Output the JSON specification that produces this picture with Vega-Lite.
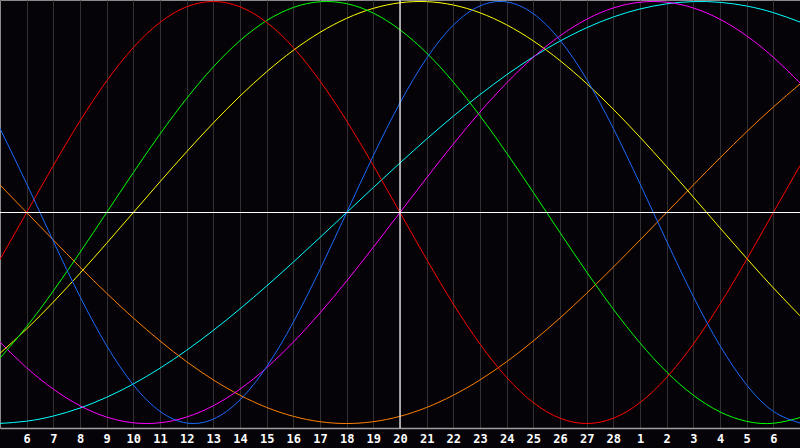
{
  "$schema": "https://vega.github.io/schema/vega-lite/v6.json",
  "width": 800,
  "height": 428,
  "autosize": {"type": "none"},
  "padding": {"left": 0, "top": 0, "right": 0, "bottom": 20},
  "background": "#050308",
  "config": {
    "view": {"stroke": "#8a8a8a", "strokeWidth": 1, "fill": "#050308"},
    "axisX": {"labelOverlap": false, "labelFlush": false, "labelBound": false}
  },
  "resolve": {"axis": {"x": "independent"}},
  "datasets": {
    "cycles": [
      {"t": 0, "physical": 0.3984, "emotional": -0.2225, "intellectual": -0.6901, "intuitive": -0.6142, "aesthetic": -0.6673, "awareness": 0.1305, "spiritual": -0.9996},
      {"t": 1, "physical": 0.1362, "emotional": 0, "intellectual": -0.5406, "intuitive": -0.7357, "aesthetic": -0.5518, "awareness": 0, "spiritual": -0.9890},
      {"t": 2, "physical": -0.1362, "emotional": 0.2225, "intellectual": -0.3717, "intuitive": -0.8372, "aesthetic": -0.4245, "awareness": -0.1305, "spiritual": -0.9646},
      {"t": 3, "physical": -0.3984, "emotional": 0.4339, "intellectual": -0.1893, "intuitive": -0.9158, "aesthetic": -0.2881, "awareness": -0.2588, "spiritual": -0.9267},
      {"t": 4, "physical": -0.6311, "emotional": 0.6235, "intellectual": 0, "intuitive": -0.9694, "aesthetic": -0.1456, "awareness": -0.3827, "spiritual": -0.8757},
      {"t": 5, "physical": -0.8170, "emotional": 0.7818, "intellectual": 0.1893, "intuitive": -0.9966, "aesthetic": 0, "awareness": -0.5, "spiritual": -0.8125},
      {"t": 6, "physical": -0.9423, "emotional": 0.9010, "intellectual": 0.3717, "intuitive": -0.9966, "aesthetic": 0.1456, "awareness": -0.6088, "spiritual": -0.7378},
      {"t": 7, "physical": -0.9977, "emotional": 0.9749, "intellectual": 0.5406, "intuitive": -0.9694, "aesthetic": 0.2881, "awareness": -0.7071, "spiritual": -0.6528},
      {"t": 8, "physical": -0.9791, "emotional": 1, "intellectual": 0.6901, "intuitive": -0.9158, "aesthetic": 0.4245, "awareness": -0.7934, "spiritual": -0.5586},
      {"t": 9, "physical": -0.8879, "emotional": 0.9749, "intellectual": 0.8146, "intuitive": -0.8372, "aesthetic": 0.5518, "awareness": -0.8660, "spiritual": -0.4566},
      {"t": 10, "physical": -0.7308, "emotional": 0.9010, "intellectual": 0.9096, "intuitive": -0.7357, "aesthetic": 0.6673, "awareness": -0.9239, "spiritual": -0.3482},
      {"t": 11, "physical": -0.5196, "emotional": 0.7818, "intellectual": 0.9718, "intuitive": -0.6142, "aesthetic": 0.7687, "awareness": -0.9659, "spiritual": -0.2349},
      {"t": 12, "physical": -0.2698, "emotional": 0.6235, "intellectual": 0.9989, "intuitive": -0.4760, "aesthetic": 0.8536, "awareness": -0.9914, "spiritual": -0.1183},
      {"t": 13, "physical": 0, "emotional": 0.4339, "intellectual": 0.9898, "intuitive": -0.3247, "aesthetic": 0.9204, "awareness": -1, "spiritual": 0},
      {"t": 14, "physical": 0.2698, "emotional": 0.2225, "intellectual": 0.9450, "intuitive": -0.1646, "aesthetic": 0.9675, "awareness": -0.9914, "spiritual": 0.1183},
      {"t": 15, "physical": 0.5196, "emotional": 0, "intellectual": 0.8660, "intuitive": 0, "aesthetic": 0.9940, "awareness": -0.9659, "spiritual": 0.2349},
      {"t": 16, "physical": 0.7308, "emotional": -0.2225, "intellectual": 0.7558, "intuitive": 0.1646, "aesthetic": 0.9993, "awareness": -0.9239, "spiritual": 0.3482},
      {"t": 17, "physical": 0.8879, "emotional": -0.4339, "intellectual": 0.6182, "intuitive": 0.3247, "aesthetic": 0.9834, "awareness": -0.8660, "spiritual": 0.4566},
      {"t": 18, "physical": 0.9791, "emotional": -0.6235, "intellectual": 0.4582, "intuitive": 0.4760, "aesthetic": 0.9464, "awareness": -0.7934, "spiritual": 0.5586},
      {"t": 19, "physical": 0.9977, "emotional": -0.7818, "intellectual": 0.2817, "intuitive": 0.6142, "aesthetic": 0.8893, "awareness": -0.7071, "spiritual": 0.6528},
      {"t": 20, "physical": 0.9423, "emotional": -0.9010, "intellectual": 0.0951, "intuitive": 0.7357, "aesthetic": 0.8133, "awareness": -0.6088, "spiritual": 0.7378},
      {"t": 21, "physical": 0.8170, "emotional": -0.9749, "intellectual": -0.0951, "intuitive": 0.8372, "aesthetic": 0.7199, "awareness": -0.5, "spiritual": 0.8125},
      {"t": 22, "physical": 0.6311, "emotional": -1, "intellectual": -0.2817, "intuitive": 0.9158, "aesthetic": 0.6112, "awareness": -0.3827, "spiritual": 0.8757},
      {"t": 23, "physical": 0.3984, "emotional": -0.9749, "intellectual": -0.4582, "intuitive": 0.9694, "aesthetic": 0.4894, "awareness": -0.2588, "spiritual": 0.9267},
      {"t": 24, "physical": 0.1362, "emotional": -0.9010, "intellectual": -0.6182, "intuitive": 0.9966, "aesthetic": 0.3572, "awareness": -0.1305, "spiritual": 0.9646},
      {"t": 25, "physical": -0.1362, "emotional": -0.7818, "intellectual": -0.7558, "intuitive": 0.9966, "aesthetic": 0.2174, "awareness": 0, "spiritual": 0.9890},
      {"t": 26, "physical": -0.3984, "emotional": -0.6235, "intellectual": -0.8660, "intuitive": 0.9694, "aesthetic": 0.0730, "awareness": 0.1305, "spiritual": 0.9996},
      {"t": 27, "physical": -0.6311, "emotional": -0.4339, "intellectual": -0.9450, "intuitive": 0.9158, "aesthetic": -0.0730, "awareness": 0.2588, "spiritual": 0.9961},
      {"t": 28, "physical": -0.8170, "emotional": -0.2225, "intellectual": -0.9898, "intuitive": 0.8372, "aesthetic": -0.2174, "awareness": 0.3827, "spiritual": 0.9786},
      {"t": 29, "physical": -0.9423, "emotional": 0, "intellectual": -0.9989, "intuitive": 0.7357, "aesthetic": -0.3572, "awareness": 0.5, "spiritual": 0.9473},
      {"t": 30, "physical": -0.9977, "emotional": 0.2225, "intellectual": -0.9718, "intuitive": 0.6142, "aesthetic": -0.4894, "awareness": 0.6088, "spiritual": 0.9028}
    ]
  },
  "layer": [
    {
      "data": {"name": "cycles"},
      "transform": [
        {"fold": ["spiritual", "awareness", "aesthetic", "intuitive", "intellectual", "emotional", "physical"], "as": ["cycle", "value"]}
      ],
      "mark": {"type": "line", "interpolate": "natural", "strokeWidth": 1, "clip": true},
      "encoding": {
        "x": {
          "field": "t",
          "type": "quantitative",
          "scale": {"domain": [0, 30], "nice": false, "zero": false},
          "axis": {
            "title": null,
            "values": [1, 2, 3, 4, 5, 6, 7, 8, 9, 10, 11, 12, 13, 14, 15, 16, 17, 18, 19, 20, 21, 22, 23, 24, 25, 26, 27, 28, 29],
            "labelExpr": "datum.value > 23 ? datum.value - 23 : datum.value + 5",
            "grid": true,
            "gridColor": "#303030",
            "gridWidth": 1,
            "domain": true,
            "domainColor": "#a0a0a0",
            "domainWidth": 1.5,
            "ticks": false,
            "labelColor": "#ffffff",
            "labelFont": "DejaVu Sans Mono",
            "labelFontWeight": "bold",
            "labelFontSize": 12,
            "labelPadding": 5,
            "labelOverlap": false,
            "labelSeparation": 0,
            "labelFlush": false
          }
        },
        "y": {
          "field": "value",
          "type": "quantitative",
          "scale": {"domain": [-1.0213, 1.0071], "nice": false, "zero": false},
          "axis": null
        },
        "color": {
          "field": "cycle",
          "type": "nominal",
          "scale": {
            "domain": ["physical", "emotional", "intellectual", "intuitive", "aesthetic", "awareness", "spiritual"],
            "range": ["#1a6aff", "#ff0000", "#00ff00", "#ff00ff", "#ffff00", "#ff8000", "#00ffff"]
          },
          "legend": null
        }
      }
    },
    {
      "data": {"values": [{}]},
      "mark": {"type": "rule", "color": "#ffffff", "strokeWidth": 1.2},
      "encoding": {"y": {"datum": 0, "type": "quantitative", "axis": null}}
    },
    {
      "data": {"values": [{}]},
      "mark": {"type": "rule", "color": "#ffffff", "strokeWidth": 1.2},
      "encoding": {"x": {"datum": 15, "type": "quantitative", "axis": null}}
    }
  ]
}
